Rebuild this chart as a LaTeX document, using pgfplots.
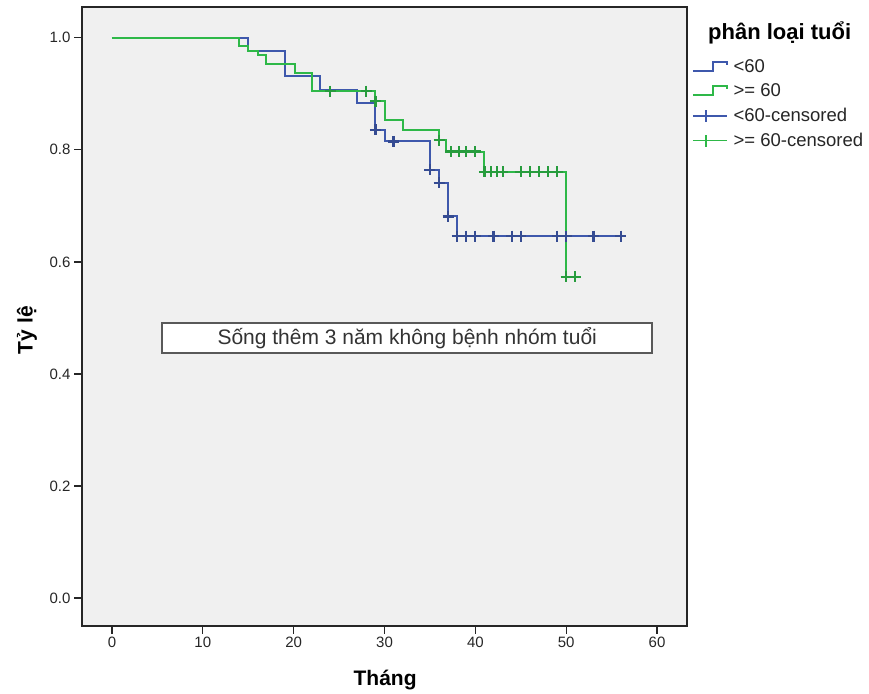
\documentclass[border=0pt]{standalone}
\usepackage{fontspec}
\setmainfont{Liberation Sans}
\usepackage{pgfplots}
\pgfplotsset{compat=1.18}
\definecolor{kmblue}{RGB}{62,88,172}
\definecolor{kmgreen}{RGB}{46,184,72}
\definecolor{panel}{RGB}{240,240,240}

% Kaplan-Meier steps: (time, survival)
\pgfplotstableread{
t s
0 1.000
15.0 0.977
19.0 0.931
22.9 0.907
27.0 0.884
29.0 0.836
30.0 0.815
35.0 0.764
36.0 0.741
37.0 0.681
38.0 0.646
56.0 0.646
}\younger
\pgfplotstableread{
t s
0 1.000
14.0 0.985
15.0 0.977
16.1 0.969
17.0 0.953
20.1 0.937
22.0 0.905
29.0 0.887
30.0 0.854
32.0 0.836
36.0 0.817
36.8 0.797
41.0 0.761
50.0 0.573
51.0 0.573
}\older
% censored observations
\pgfplotstableread{
t s
29.0 0.836
31.0 0.815
35.0 0.764
36.0 0.741
37.0 0.681
38.0 0.646
39.0 0.646
40.0 0.646
42.0 0.646
44.0 0.646
45.0 0.646
49.0 0.646
50.0 0.646
53.0 0.646
56.0 0.646
}\youngercens
\pgfplotstableread{
t s
24.0 0.905
28.0 0.905
29.0 0.887
36.0 0.817
37.3 0.797
38.2 0.797
39.0 0.797
40.0 0.797
41.0 0.761
41.7 0.761
42.4 0.761
43.0 0.761
45.0 0.761
46.0 0.761
47.0 0.761
48.0 0.761
49.0 0.761
50.0 0.573
51.0 0.573
}\oldercens

\begin{document}
\begin{tikzpicture}[x=1bp,y=1bp]
\path[use as bounding box] (0,0) rectangle (869,694);
\begin{axis}[
  at={(82bp,68bp)}, anchor=south west,
  scale only axis, width=605bp, height=619bp,
  xmin=-3.3, xmax=63.3, ymin=-0.05, ymax=1.055,
  axis background/.style={fill=panel},
  axis line style={black!85, line width=1.3bp},
  xtick={0,10,20,30,40,50,60},
  ytick={0,0.2,0.4,0.6,0.8,1.0},
  tick align=outside, xtick pos=bottom, ytick pos=left,
  major tick length=8bp,
  tick style={black!85, line width=1.3bp},
  yticklabel style={/pgf/number format/.cd, fixed, fixed zerofill, precision=1},
  /pgf/number format/assume math mode=true,
  ticklabel style={font=\fontsize{15bp}{18bp}\selectfont, text=black!85},
  xlabel={Tháng}, ylabel={Tỷ lệ},
  xlabel style={font=\bfseries\fontsize{21bp}{25bp}\selectfont, at={(axis description cs:0.501,-0.087)}, anchor=center},
  ylabel style={font=\bfseries\fontsize{21bp}{25bp}\selectfont, at={(axis description cs:-0.091,0.478)}, anchor=center},
  legend style={at={(axis description cs:1.008,0.917)}, anchor=north west, draw=none, fill=none,
    inner xsep=0bp, inner ysep=0bp, row sep=8bp,
    font=\fontsize{18.5bp}{21bp}\selectfont,
    nodes={inner xsep=2bp, inner ysep=1bp, text=black!85}},
  legend cell align=left,
  clip=true,
]
\addplot[const plot, kmblue, line width=2bp,
  legend image code/.code={\draw[kmblue, line width=1.5bp] (0bp,-4bp) -- (20bp,-4bp) -- (20bp,5bp) -- (34bp,5bp) -- (34bp,2bp);}]
  table[x=t,y=s] {\younger};
\addlegendentry{\hspace{4bp}<60}
\addplot[const plot, kmgreen, line width=2bp,
  legend image code/.code={\draw[kmgreen, line width=1.5bp] (0bp,-4bp) -- (20bp,-4bp) -- (20bp,5bp) -- (34bp,5bp) -- (34bp,2bp);}]
  table[x=t,y=s] {\older};
\addlegendentry{\hspace{4bp}>= 60}
\addplot[only marks, mark=+, mark size=5.5bp, kmblue!85!black, mark options={line width=2.2bp},
  legend image code/.code={\draw[kmblue, line width=1.5bp] (0bp,0bp) -- (34bp,0bp); \draw[kmblue, line width=1.5bp] (13bp,-6bp) -- (13bp,6bp);}]
  table[x=t,y=s] {\youngercens};
\addlegendentry{\hspace{4bp}<60-censored}
\addplot[only marks, mark=+, mark size=5.5bp, kmgreen!85!black, mark options={line width=2.2bp},
  legend image code/.code={\draw[kmgreen, line width=1.5bp] (0bp,0bp) -- (34bp,0bp); \draw[kmgreen, line width=1.5bp] (13bp,-6bp) -- (13bp,6bp);}]
  table[x=t,y=s] {\oldercens};
\addlegendentry{\hspace{4bp}>= 60-censored}

\node[draw=black!65, line width=1.5bp, fill=white, minimum width=490bp, minimum height=30bp,
  inner sep=0bp, font=\fontsize{21bp}{25bp}\selectfont, text=black!80]
  at (axis cs:32.5,0.464) {Sống thêm 3 năm không bệnh nhóm tuổi};
\end{axis}
\node[anchor=west, font=\bfseries\fontsize{22bp}{26bp}\selectfont, inner sep=0bp] at (708bp,661bp) {phân loại tuổi};
\end{tikzpicture}
\end{document}
